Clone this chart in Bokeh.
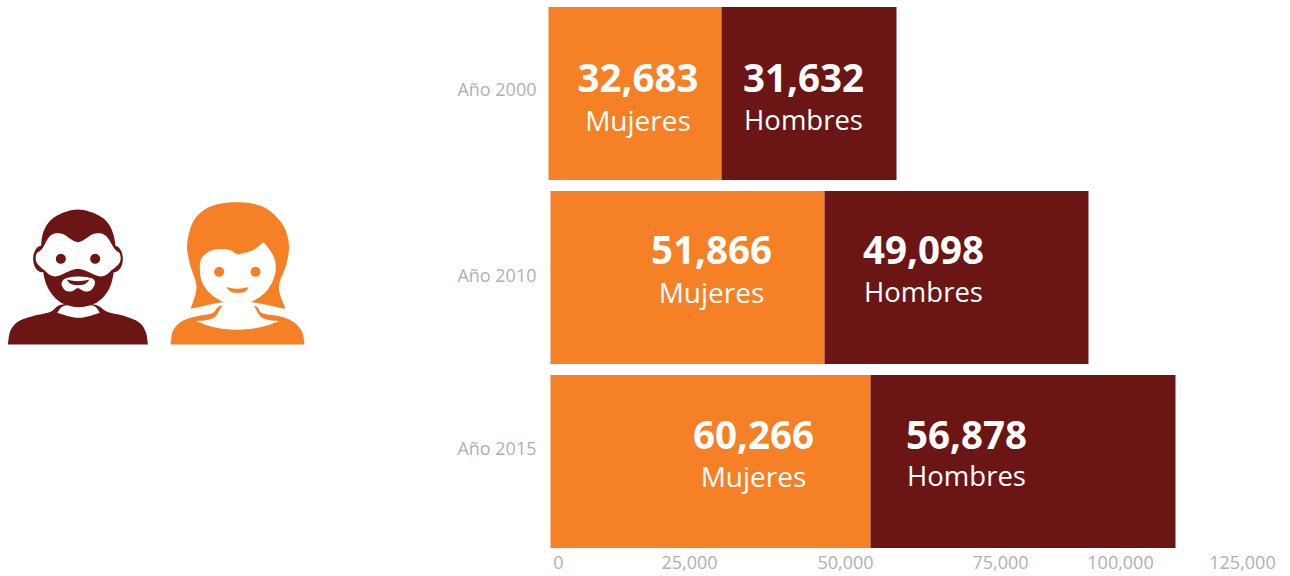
import math
from bokeh.core.properties import value
from bokeh.embed import file_html
from bokeh.layouts import row
from bokeh.models import ColumnDataSource, FixedTicker, Range1d
from bokeh.plotting import figure
from bokeh.resources import INLINE

# ---- data ----
years = ["Año 2000", "Año 2010", "Año 2015"]
mujeres = [32683, 51866, 60266]
hombres = [31632, 49098, 56878]
# bar lengths (the image is slightly stretched)
mujeres_bar = [32430, 51360, 59980]
hombres_bar = [32800, 49480, 57170]
bar_start = [-375, 0, 0]
tick_labels = ["0", "25,000", "50,000", "75,000", "100,000", "125,000"]

# ---- layout ----
ORANGE, DARK, GREY = "#F58025", "#6C1515", "#B0B0B4"
FONT = "Open Sans"
PX_PER_K = 5.335
X0 = 550
FIG_H = 576
FRAME_L, FRAME_R, FRAME_B = 540, 1282, 550
ROW_0, ROW_PITCH = 93, 184
x_of = lambda px: (px - X0) / PX_PER_K * 1000
y_of = lambda px: (px - ROW_0) / ROW_PITCH

x_tick_px = [558, 689, 845, 1000, 1120, 1242]
y_tick_px = [89, 275, 447]
x_ticks = [round(x_of(v)) for v in x_tick_px]
y_ticks = [round(y_of(v), 3) for v in y_tick_px]

p = figure(width=FRAME_R - 440, height=FIG_H, output_backend="svg", toolbar_location=None,
           x_range=Range1d(x_of(FRAME_L), x_of(FRAME_R)),
           y_range=Range1d(y_of(FRAME_B), y_of(0)),
           min_border_left=FRAME_L - 440, min_border_right=0, min_border_top=0,
           min_border_bottom=FIG_H - FRAME_B, outline_line_color=None)
p.grid.visible = False

rows = list(range(len(years)))
mid_m = [s + m for s, m in zip(bar_start, mujeres_bar)]
end_h = [e + h for e, h in zip(mid_m, hombres_bar)]
src = ColumnDataSource(dict(y=rows, s=bar_start, m=mid_m, e=end_h))
p.hbar(y="y", left="s", right="m", height=0.94, source=src, fill_color=ORANGE, line_color=None)
p.hbar(y="y", left="m", right="e", height=0.94, source=src, fill_color=DARK, line_color=None)

num_shift_y = [-16, -28, -27]
word_shift_y = [26, 14, 14]
m_shift_x = [3, 24, 43]
h_shift_x = [-5.5, -33, -56.5]
centers_m = [(a + b) / 2 for a, b in zip(bar_start, mid_m)]
centers_h = [(a + b) / 2 for a, b in zip(mid_m, end_h)]


def labels(cx, vals, word, sx, word_size):
    s = ColumnDataSource(dict(
        x=cx, y=rows, sx=sx, ny=num_shift_y, wy=word_shift_y,
        n=[f"{v:,}" for v in vals], w=[word] * len(vals)))
    p.text(x="x", y="y", text="n", x_offset="sx", y_offset="ny", source=s, text_color="white",
           text_font=value(FONT), text_font_style="bold", text_font_size="38.5px",
           text_align="center", text_baseline="middle")
    p.text(x="x", y="y", text="w", x_offset="sx", y_offset="wy", source=s, text_color="white",
           text_font=value(FONT), text_font_size=word_size,
           text_align="center", text_baseline="middle")


labels(centers_m, mujeres, "Mujeres", m_shift_x, "28px")
labels(centers_h, hombres, "Hombres", h_shift_x, "27.5px")

for ax, ticks, labs in ((p.xaxis[0], x_ticks, tick_labels), (p.yaxis[0], y_ticks, years)):
    ax.ticker = FixedTicker(ticks=ticks)
    ax.major_label_overrides = dict(zip(ticks, labs))
    ax.axis_line_color = None
    ax.major_tick_line_color = None
    ax.minor_tick_line_color = None
    ax.major_tick_out = 0
    ax.major_tick_in = 0
    ax.major_label_text_color = GREY
    ax.major_label_text_font = FONT
    ax.major_label_text_font_size = "18px"
p.xaxis[0].major_label_standoff = 5
p.yaxis[0].major_label_standoff = 4

# ---- icons (decoration, drawn in page pixels) ----
ic = figure(width=440, height=FIG_H, output_backend="svg", toolbar_location=None,
            x_range=Range1d(0, 440), y_range=Range1d(FRAME_B, 0), min_border=0,
            min_border_bottom=FIG_H - FRAME_B, outline_line_color=None)
ic.axis.visible = False
ic.grid.visible = False


def smooth(pts, n=8):
    out = []
    k = len(pts)
    for i in range(k):
        a, b, c, d = pts[i - 1], pts[i], pts[(i + 1) % k], pts[(i + 2) % k]
        if b == c:
            out.append(b)
            continue
        for j in range(n):
            t = j / n
            f = lambda q: 0.5 * (2 * b[q] + (c[q] - a[q]) * t + (2 * a[q] - 5 * b[q] + 4 * c[q] - d[q]) * t * t
                                 + (3 * b[q] - a[q] - 3 * c[q] + d[q]) * t ** 3)
            out.append((f(0), f(1)))
    return out


def shape(pts, color, ox, oy=190, curved=True):
    ps = smooth(pts) if curved else pts
    ic.patch([ox + a / 3 for a, _ in ps], [oy + b / 3 for _, b in ps], fill_color=color, line_color=None)


def oval(cx, cy, rx, ry, color, ox):
    ps = [(cx + rx * math.cos(i * math.pi / 20), cy + ry * math.sin(i * math.pi / 20)) for i in range(40)]
    shape(ps, color, ox, curved=False)


W = "#FFFFFF"
# man
ox = 0
shape([(22, 462), (22, 462), (30, 420), (55, 392), (100, 376), (150, 364), (185, 342), (280, 342), (320, 364),
       (370, 376), (415, 395), (436, 425), (442, 462), (442, 462)], DARK, ox)
shape([(170, 367), (170, 367), (195, 345), (275, 345), (298, 367), (298, 367), (235, 382)], W, ox)
shape([(122, 165), (135, 110), (170, 75), (232, 57), (295, 75), (330, 110), (345, 170), (338, 255), (320, 305),
       (285, 338), (235, 350), (185, 338), (150, 305), (130, 255)], DARK, ox)
oval(124, 205, 26, 40, DARK, ox)
oval(341, 205, 26, 40, DARK, ox)
shape([(125, 175), (150, 135), (185, 130), (232, 155), (280, 130), (315, 135), (342, 175), (358, 190), (358, 215),
       (335, 238), (300, 258), (232, 235), (165, 258), (130, 238), (108, 215), (108, 190)], W, ox)
oval(181, 205, 15, 15, DARK, ox)
oval(284, 205, 15, 15, DARK, ox)
shape([(183, 280), (195, 264), (232, 258), (275, 264), (283, 280), (270, 300), (250, 302), (232, 293), (215, 302),
       (195, 300)], W, ox)
shape([(198, 267), (198, 267), (232, 272), (268, 267), (268, 267), (250, 282), (215, 282)], DARK, ox)
# woman
ox = 160
shape([(80, 160), (100, 90), (150, 48), (230, 35), (310, 50), (365, 100), (385, 160), (378, 220), (355, 290),
       (375, 355), (375, 355), (270, 335), (230, 345), (190, 335), (90, 355), (90, 355), (108, 290), (88, 220)],
      ORANGE, ox)
shape([(30, 462), (30, 462), (38, 420), (65, 392), (105, 378), (155, 368), (185, 345), (280, 345), (305, 368),
       (360, 378), (400, 395), (425, 425), (432, 462), (432, 462)], ORANGE, ox)
shape([(105, 392), (105, 392), (160, 382), (195, 340), (270, 340), (305, 382), (358, 392), (358, 392), (300, 410),
       (230, 418), (160, 410)], W, ox)
shape([(92, 358), (92, 358), (150, 346), (192, 336), (192, 342), (150, 354), (100, 364), (100, 364)], W, ox)
shape([(373, 358), (373, 358), (320, 346), (268, 336), (268, 342), (315, 354), (365, 364), (365, 364)], W, ox)
shape([(118, 235), (125, 200), (160, 178), (205, 178), (230, 192), (230, 192), (275, 180), (310, 155), (310, 155),
       (338, 195), (346, 235), (335, 275), (310, 310), (270, 335), (230, 342), (190, 335), (150, 310), (125, 275)],
      W, ox)
shape([(230, 186), (230, 186), (255, 172), (275, 160), (275, 160), (262, 178), (235, 190)], ORANGE, ox)
oval(176, 244, 15, 15, ORANGE, ox)
oval(285, 244, 15, 15, ORANGE, ox)
shape([(197, 290), (197, 290), (230, 295), (265, 290), (265, 290), (250, 305), (215, 305)], ORANGE, ox)

page = row(ic, p, margin=(0, 0, 0, 0))
open("out.html", "w").write(file_html(page, INLINE))
